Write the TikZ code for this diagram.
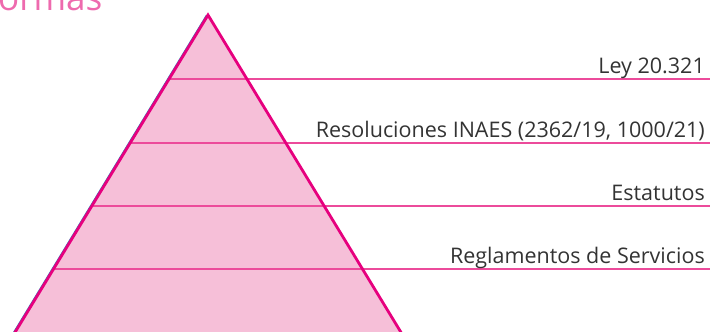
\documentclass[tikz,border=0pt]{standalone}
\usepackage{fontspec}
\setmainfont{Open Sans}
\definecolor{pyrfill}{HTML}{F6BFD8}
\definecolor{pyredge}{HTML}{E6007E}
\definecolor{hline}{HTML}{EC4B9B}
\definecolor{blueedge}{HTML}{2F7DB8}
\definecolor{txt}{HTML}{333333}
\definecolor{titlec}{HTML}{EE6AAE}
\tikzset{
  lvl/.style={draw=hline, line width=2.8pt},
  lbl/.style={anchor=base east, text=txt, font=\fontsize{21.5}{24}\selectfont, inner sep=0pt},
}
\begin{document}
\begin{tikzpicture}[x=1pt,y=-1pt]
\useasboundingbox (0,0) rectangle (710,332);
\clip (0,0) rectangle (710,332);
\node[anchor=base west, text=titlec, font=\fontsize{35}{40}\selectfont, inner sep=0pt] (title) at (-2,10) {ormas};
\coordinate (apex) at (208,15);
\coordinate (bl) at (14,334);
\coordinate (br) at (402,334);
\fill[pyrfill] (apex) -- (bl) -- (br) -- cycle;
\draw[blueedge, line width=1.2pt] ([xshift=-1.4pt]apex) -- ([xshift=-1.4pt]bl);
\foreach \y/\n in {79/a,143/b,206/c,269/d}{
  \pgfmathsetmacro{\xl}{208-0.6113*(\y-15)}
  \coordinate (L\n) at (\xl,\y);
  \coordinate (R\n) at (710,\y);
  \draw[lvl] (L\n) -- (R\n);
}
\draw[pyredge, line width=2.8pt, line join=miter] (bl) -- (apex) -- (br);
\node[lbl] (t1) at (705,73) {Ley 20.321};
\node[lbl] (t2) at (705,137) {Resoluciones INAES (2362/19, 1000/21)};
\node[lbl] (t3) at (705,200) {Estatutos};
\node[lbl] (t4) at (705,263) {Reglamentos de Servicios};
\end{tikzpicture}
\end{document}
